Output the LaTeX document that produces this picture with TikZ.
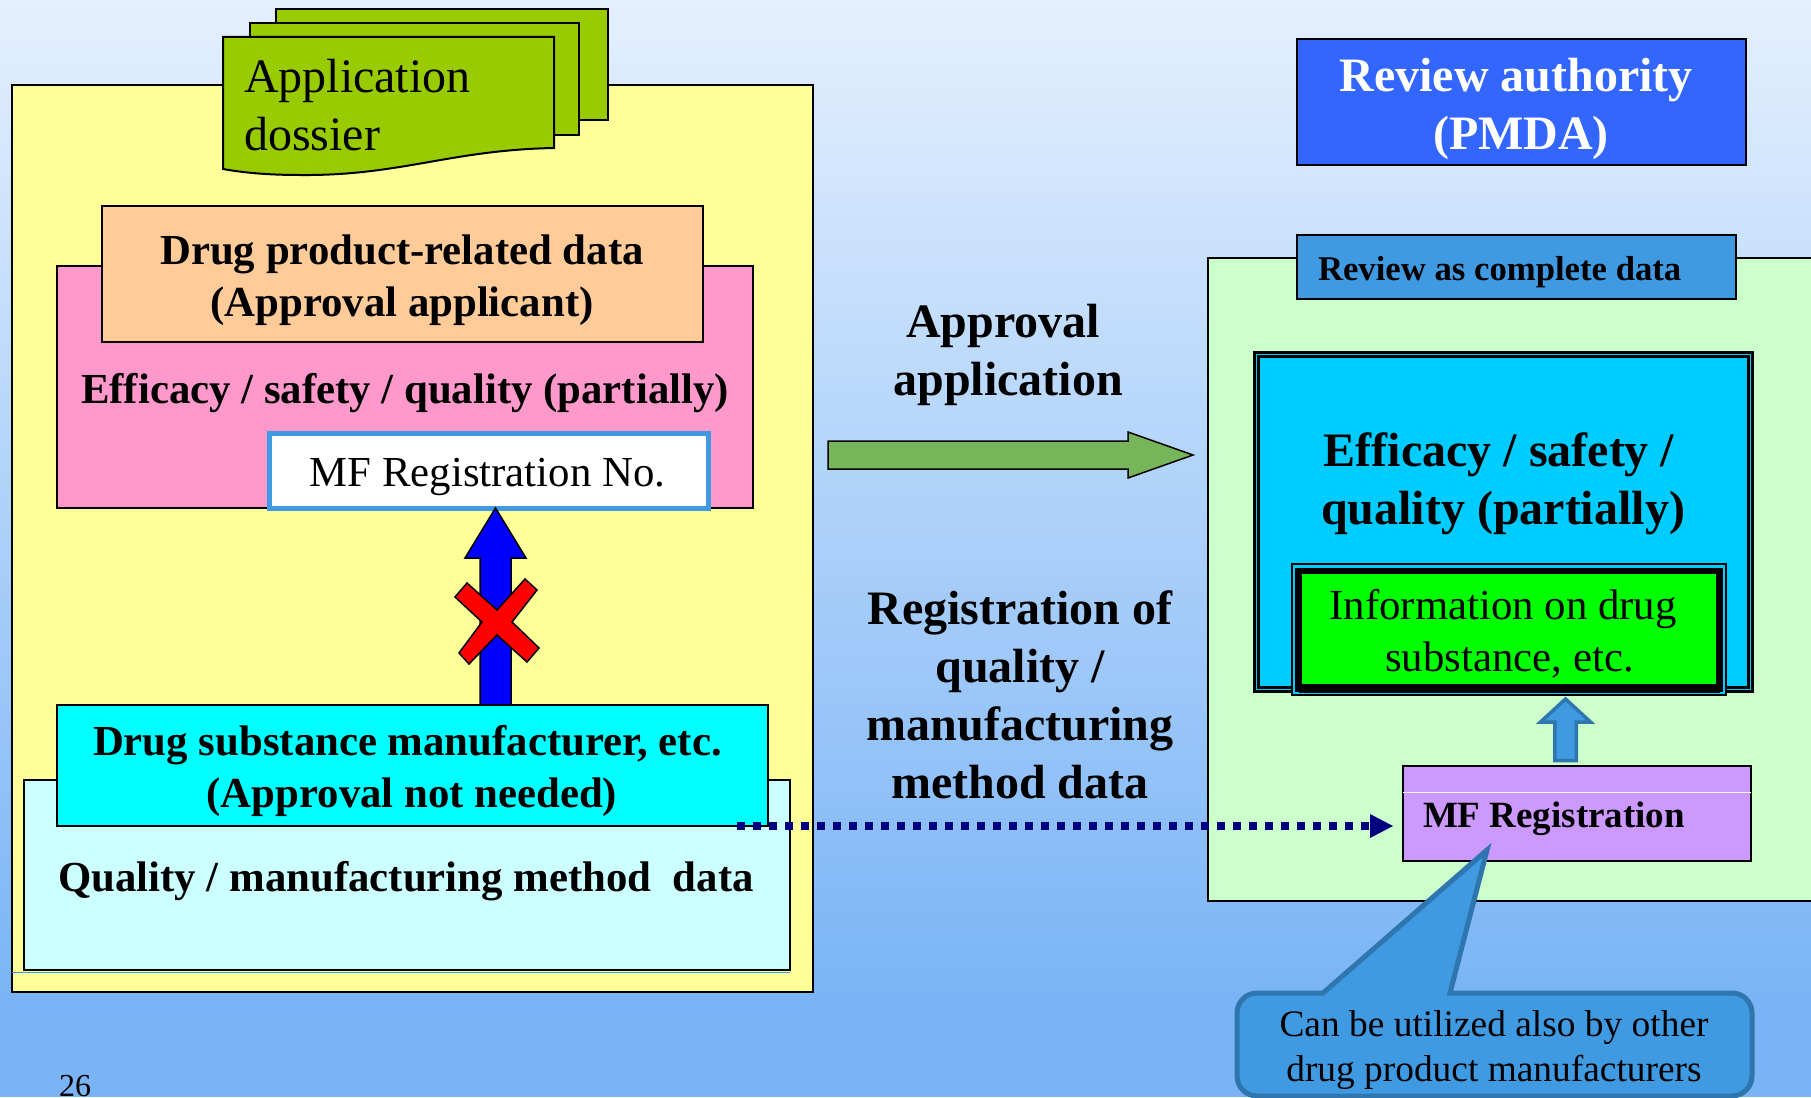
\documentclass[tikz,border=0pt]{standalone}
\usepackage{fontspec}
\setmainfont{Liberation Serif}
\usetikzlibrary{calc,arrows.meta}
\definecolor{bgtop}{HTML}{E4F0FE}
\definecolor{bgbot}{HTML}{7AB4F6}
\definecolor{yel}{HTML}{FFFF99}
\definecolor{sheet}{HTML}{99CC00}
\definecolor{pinkb}{HTML}{FF99CC}
\definecolor{orang}{HTML}{FFCC99}
\definecolor{mfblue}{HTML}{3F9AE2}
\definecolor{edgeblue}{HTML}{2F75AE}
\definecolor{lcyan}{HTML}{CCFFFF}
\definecolor{aqua}{HTML}{00FFFF}
\definecolor{lgreen}{HTML}{CCFFCC}
\definecolor{rev}{HTML}{3366FF}
\definecolor{sky}{HTML}{00CCFF}
\definecolor{purp}{HTML}{CC99FF}
\definecolor{garrow}{HTML}{77B55A}
\definecolor{navyd}{HTML}{000080}
\definecolor{pureblue}{HTML}{0000FF}
\definecolor{purered}{HTML}{FF0000}
\definecolor{puregreen}{HTML}{00FF00}
\newcommand\blockarrow[6]{%
 \path ($(#3)!#6pt!(#2)$) coordinate (hb);
 \draw[#1] ($(#2)!#4pt!90:(#3)$) -- ($(hb)!#4pt!90:(#3)$) -- ($(hb)!#5pt!90:(#3)$) -- (#3) -- ($(hb)!#5pt!-90:(#3)$) -- ($(hb)!#4pt!-90:(#3)$) -- ($(#2)!#4pt!-90:(#3)$) -- cycle;}
\tikzset{
 x=1pt,y=-1pt,
 boxst/.style={draw=black,line width=2pt,inner sep=0pt,outer sep=0pt,anchor=north west,align=center},
 sheetst/.style={draw=black,line width=2pt,fill=sheet,line join=miter},
 lab/.style={inner sep=0pt,outer sep=0pt,align=center},
 bigb/.style={font=\fontsize{48}{58}\selectfont\bfseries},
 midb/.style={font=\fontsize{42.8}{52}\selectfont\bfseries},
 midr/.style={font=\fontsize{42.8}{52}\selectfont},
}
\begin{document}
\begin{tikzpicture}
\useasboundingbox (0,0) rectangle (1811,1097);
\clip (0,0) rectangle (1811,1097);
\fill[bgbot] (0,990) rectangle (1811,1097);
\shade[top color=bgtop,bottom color=bgbot] (0,0) rectangle (1811,1000);

% left panel
\node[boxst,fill=yel,minimum width=801pt,minimum height=907pt] (yellow) at (12,85) {};
\draw[sheetst] (276,9) rectangle (608,120);
\draw[sheetst] (250,23) rectangle (579,135);
\draw[sheetst] (223,37) -- (554,37) -- (554,148) .. controls (450,150) and (400,176) .. (300,175) .. controls (270,175) and (245,173) .. (223,169) -- cycle;
\node[lab,anchor=west,align=left,font=\fontsize{48}{58}\selectfont] (dossier) at (244,105) {Application\\dossier};

\node[boxst,fill=pinkb,minimum width=696pt,minimum height=242pt] (pink) at (57,266) {};
\node[boxst,fill=orang,minimum width=601pt,minimum height=136pt] (orange) at (102,206) {};
\node[lab,midb] (orangetxt) at (402,280) {Drug product-related data\\(Approval applicant)};
\node[lab,midb] (efficL) at (405,393.5) {Efficacy / safety / quality (partially)};
\node[boxst,draw=mfblue,line width=5pt,fill=white,minimum width=439pt,minimum height=75pt] (mfno) at (269,433) {};
\node[lab,midr] (mfnotxt) at (487.5,476.5) {MF Registration No.};

\node[boxst,fill=lcyan,minimum width=766pt,minimum height=190pt] (lcy) at (24,780) {};
\draw[mfblue,line width=.8pt] (12,972) -- (790,972);
\coordinate (bx) at (495.5,0);
\coordinate (bluetail) at (bx |- 0,706);
\coordinate (bluetip) at (bx |- mfno.south);
\blockarrow{draw=black,line width=1.5pt,fill=pureblue,line join=miter}{bluetail}{bluetip}{15.5}{30.5}{50}
\node[boxst,fill=aqua,minimum width=711pt,minimum height=121pt] (cyanb) at (57,705) {};
\node[lab,midb] (cyantxt) at (412,771) {Drug substance manufacturer, etc.\hspace*{9pt}\\(Approval not needed)};
\node[lab,midb] (qual) at (406,881.5) {Quality / manufacturing method\ \ data};
\draw[draw=black,line width=1.5pt,fill=purered,line join=miter] (467,583) -- (455,597) -- (482,622) -- (459,653) -- (469,664) -- (497,635) -- (527,662) -- (539,648) -- (512,622) -- (537,590) -- (525,579) -- (497,610) -- cycle;

% centre
\node[lab,bigb] (appl) at (1008,354.5) {Approval\hspace*{10pt}\\application};
\node[lab,bigb] (regd) at (1020,695) {Registration of\\quality /\\manufacturing\\method data};
\coordinate (gtail) at (828,455);
\coordinate (gtip) at (1193,455);
\blockarrow{draw=black,line width=1.5pt,fill=garrow,line join=miter}{gtail}{gtip}{14}{23}{65}

% right panel
\node[boxst,fill=rev,minimum width=449pt,minimum height=126pt] (authority) at (1297,39) {};
\node[lab,bigb,text=white] (authtxt) at (1521,109) {Review authority\hspace*{10pt}\\(PMDA)};
\node[boxst,fill=lgreen,minimum width=640pt,minimum height=643pt] (lgr) at (1208,258) {};
\node[boxst,fill=mfblue,minimum width=439pt,minimum height=64pt] (revbox) at (1297,235) {};
\node[lab,anchor=west,font=\fontsize{34.7}{40}\selectfont\bfseries] (revtxt) at (1318,272.5) {Review as complete data};
\node[boxst,line width=3pt,fill=sky,minimum width=498pt,minimum height=339.5pt] (skyo) at (1254.5,352) {};
\node[boxst,line width=3pt,fill=sky,minimum width=490pt,minimum height=330.5pt] (skyi) at (1258.5,356.5) {};
\node[lab,bigb] (efficR) at (1503,483.6) {Efficacy / safety /\hspace*{8pt}\\quality (partially)};
\node[boxst,line width=2pt,fill=sky,minimum width=434pt,minimum height=131pt] (greeno) at (1292,564) {};
\node[boxst,line width=6.5pt,fill=puregreen,minimum width=421pt,minimum height=117.5pt] (greeni) at (1298.5,571) {};
\draw[line width=9pt] (greeni.south west) -- (greeni.south east);
\node[lab,midr] (greentxt) at (1503,634) {Information on drug\\\hspace*{13pt}substance, etc.};
\node[boxst,fill=purp,minimum width=348pt,minimum height=95pt] (purple) at (1403,766) {};
\draw[white,line width=1pt] (purple.west |- 0,792) -- (purple.east |- 0,792);
\node[lab,anchor=west,font=\fontsize{37}{42}\selectfont\bfseries] (mfreg) at (1423,818.5) {MF Registration};
\coordinate (sx) at (1565.5,0);
\coordinate (stail) at (sx |- 0,760.5);
\coordinate (stip) at (sx |- 0,699);
\blockarrow{draw=edgeblue,line width=3.5pt,fill=mfblue,line join=miter}{stail}{stip}{10.75}{25}{23}

% callout
\draw[draw=edgeblue,line width=5pt,fill=mfblue,line join=miter] (1323,993) -- (1487,850) -- (1450,993) [rounded corners=20pt] -- (1752,993) -- (1752,1096) -- (1237,1096) -- (1237,993) [sharp corners] -- (1323,993) -- cycle;
\node[lab,font=\fontsize{37.4}{45}\selectfont] (can) at (1494,1050.5) {Can be utilized also by other\\drug product manufacturers};

% dotted connector
\coordinate (dstart) at ($(cyanb.south east)+(-31,0)$);
\coordinate (dend) at (purple.west |- cyanb.south);
\coordinate (dtip) at ($(dend)+(-10,0)$);
\coordinate (dbase) at ($(dend)+(-33,0)$);
\draw[navyd,line width=8pt,dash pattern=on 8pt off 8pt] (dstart) -- (dbase);
\fill[navyd] (dtip) -- ($(dbase)+(0,-12)$) -- ($(dbase)+(0,12)$) -- cycle;

\node[lab,anchor=base,font=\fontsize{32}{36}\selectfont] (pageno) at (75,1096.5) {26};
\end{tikzpicture}
\end{document}
